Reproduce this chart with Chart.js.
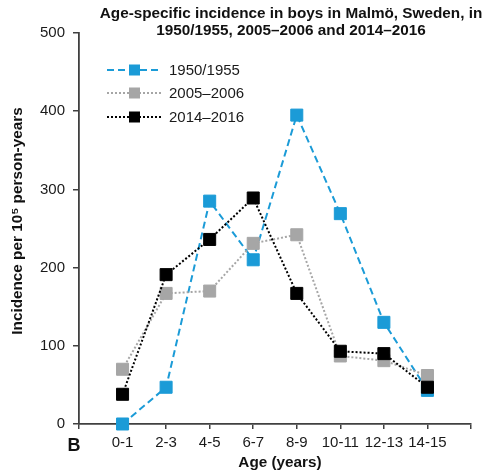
<!DOCTYPE html>
<html>
<head>
<meta charset="utf-8">
<script src="https://cdn.jsdelivr.net/npm/chart.js@4"></script>
<style>
  html, body { margin: 0; padding: 0; background: #fff; }
  #wrap { width: 489px; height: 474px; }
</style>
</head>
<body>
<div id="wrap"><canvas id="c" width="489" height="474"></canvas></div>
<script>
// Age groups (years)
const ageGroups = ['0-1', '2-3', '4-5', '6-7', '8-9', '10-11', '12-13', '14-15'];

// Incidence per 10^5 person-years
const inc1950 = [0, 47, 285, 210, 395, 269, 130, 43];
const inc2005 = [70, 167, 170, 231, 242, 87, 81, 62];
const inc2014 = [38, 191, 236, 289, 167, 93, 90, 47];

const seriesNames = ['1950/1955', '2005\u20132006', '2014\u20132016'];
const yTicks = [0, 100, 200, 300, 400, 500];

// Blank slots at both ends so points sit on tick marks with a half-step margin
const labels = ['', ...ageGroups, ''];
const pad = arr => [null, ...arr, null];

const AXIS = '#404040';
const FONT = "'Liberation Sans', Arial, sans-serif";

const textPlugin = {
  id: 'texts',
  afterDraw(chart) {
    const ctx = chart.ctx;
    ctx.save();
    ctx.fillStyle = '#111';
    ctx.textAlign = 'center';
    ctx.textBaseline = 'middle';

    // Title
    ctx.font = `bold 15.3px ${FONT}`;
    ctx.fillText('Age-specific incidence in boys in Malm\u00f6, Sweden, in', 291, 14);
    ctx.fillText('1950/1955, 2005\u20132006 and 2014\u20132016', 291, 31);

    // Axis titles
    ctx.fillText('Age (years)', 280, 463);
    ctx.save();
    ctx.translate(18, 221);
    ctx.rotate(-Math.PI / 2);
    ctx.fillText('Incidence per 10\u2075 person-years', 0, 0);
    ctx.restore();

    // Panel letter
    ctx.font = `bold 18px ${FONT}`;
    ctx.fillText('B', 74, 446);

    // Legend
    const rows = [70, 93, 117];
    chart.data.datasets.forEach((ds, i) => {
      const y = rows[i];
      ctx.save();
      ctx.strokeStyle = ds.borderColor;
      ctx.lineWidth = ds.borderWidth;
      ctx.setLineDash(ds.borderDash || []);
      ctx.beginPath();
      ctx.moveTo(107, y);
      ctx.lineTo(162, y);
      ctx.stroke();
      ctx.setLineDash([]);
      ctx.fillStyle = ds.pointBackgroundColor;
      ctx.fillRect(129, y - 5.5, 11, 11);
      ctx.restore();
      ctx.font = `15px ${FONT}`;
      ctx.textAlign = 'left';
      ctx.fillStyle = '#1a1a1a';
      ctx.fillText(ds.label, 169, y + 1);
    });
    ctx.restore();
  }
};

function series(name, values, color, dash, order) {
  return {
    label: name,
    data: pad(values),
    borderColor: color,
    borderWidth: 2,
    borderDash: dash,
    pointStyle: 'rect',
    pointRadius: 8.5,
    pointHoverRadius: 8.5,
    pointBackgroundColor: color,
    pointBorderColor: color,
    pointBorderWidth: 1,
    tension: 0,
    spanGaps: false,
    clip: false,
    order: order
  };
}

new Chart(document.getElementById('c'), {
  type: 'line',
  data: {
    labels: labels,
    datasets: [
      series(seriesNames[0], inc1950, '#1b9bd7', [7, 4], 2),
      series(seriesNames[1], inc2005, '#a6a6a6', [2, 2], 1),
      series(seriesNames[2], inc2014, '#000000', [2, 2], 0)
    ]
  },
  options: {
    responsive: false,
    animation: false,
    events: [],
    layout: { padding: { top: 33, right: 18, left: 0, bottom: 0 } },
    plugins: {
      legend: { display: false },
      title: { display: false },
      tooltip: { enabled: false }
    },
    scales: {
      x: {
        type: 'category',
        offset: false,
        grid: { drawOnChartArea: false, drawTicks: true, tickLength: 5, color: AXIS, lineWidth: 1.5 },
        border: { display: true, color: AXIS, width: 1.8 },
        ticks: {
          autoSkip: false,
          maxRotation: 0,
          padding: 5,
          color: '#1a1a1a',
          font: { family: FONT, size: 15 }
        },
        afterFit(scale) { scale.height = 50; }
      },
      y: {
        min: 0,
        max: 500,
        afterBuildTicks(scale) { scale.ticks = yTicks.map(v => ({ value: v })); },
        grid: { drawOnChartArea: false, drawTicks: true, tickLength: 6, color: AXIS, lineWidth: 1.5 },
        border: { display: true, color: AXIS, width: 1.8 },
        ticks: {
          padding: 8,
          color: '#1a1a1a',
          font: { family: FONT, size: 15 }
        },
        afterFit(scale) { scale.width = 79; }
      }
    }
  },
  plugins: [textPlugin]
});
</script>
</body>
</html>
